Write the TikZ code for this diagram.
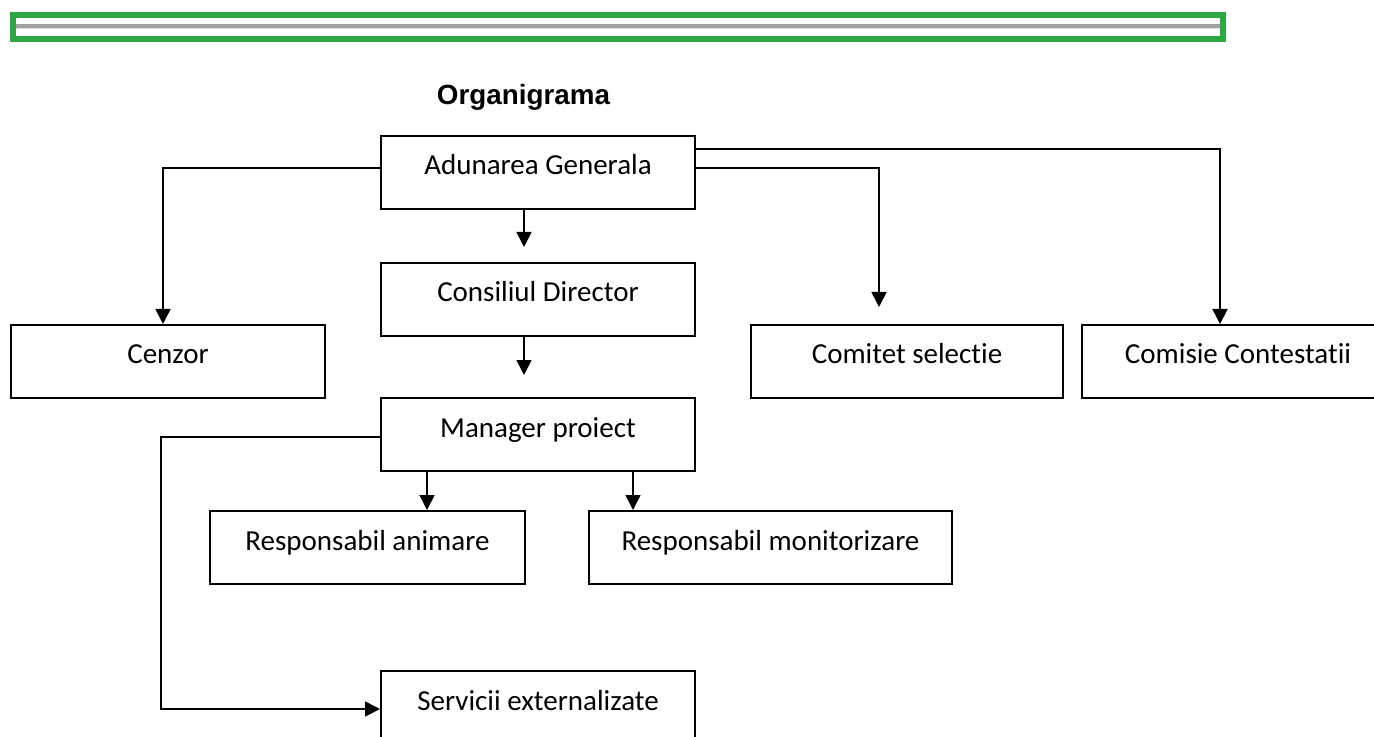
\documentclass[tikz,border=0pt]{standalone}
\usepackage{fontspec}
\setmainfont{Carlito}[Ligatures={NoCommon, NoRare, NoContextual}, RawFeature={-liga;-clig;-dlig;-calt}]
\newfontfamily\titlefont{Liberation Sans}
\usepackage{xcolor}
\usepackage{tikz}
\usetikzlibrary{arrows.meta, positioning}
\definecolor{bargreen}{RGB}{43,167,67}
\definecolor{bargray}{RGB}{160,160,160}

\begin{document}
\begin{tikzpicture}[x=0.5pt, y=-0.5pt,
    orgbox/.style={draw, line width=1pt, inner sep=0pt, anchor=north west,
      minimum width=157pt, text height=19.5pt, text depth=17pt,
      font=\fontsize{14.5}{17}\selectfont},
    link/.style={line width=0.85pt},
    arr/.style={link, -{Triangle[length=7.5pt, width=7.5pt]}}]
    \clip (0,0) rectangle (1374,737);

    % Header bar
    \draw[bargreen, line width=3pt] (13,15) rectangle (1223,39);
    \draw[bargray, line width=2pt] (16,26) -- (1220,26);
    \draw[gray!25, line width=0.6pt] (16,28.5) -- (1220,28.5);

    % Title
    \node[anchor=base, font=\titlefont\bfseries\fontsize{13.9}{16}\selectfont] (title) at (523.5,105) {Organigrama};

    % Boxes
    \node[orgbox] (adun) at (380,135) {Adunarea Generala};
    \node[orgbox] (cons) at (380,262) {Consiliul Director};
    \node[orgbox] (cenzor) at (10,324) {Cenzor};
    \node[orgbox, minimum width=156pt] (comitet) at (750,324) {Comitet selectie};
    \node[orgbox, minimum width=156pt] (comisie) at (1081,324) {Comisie Contestatii};
    \node[orgbox] (manager) at (380,397) {Manager proiect};
    \node[orgbox, minimum width=157.5pt] (respanim) at (209,510) {Responsabil animare};
    \node[orgbox, minimum width=181.5pt] (respmon) at (588,510) {Responsabil monitorizare};
    \node[orgbox] (servicii) at (380,670) {Servicii externalizate};

    % Chain of command
    \draw[arr, shorten >=7.5pt] ([xshift=-7pt]adun.south) -- ([xshift=-7pt]cons.north);
    \draw[arr, shorten >=11pt] ([xshift=-7pt]cons.south) -- ([xshift=-7pt]manager.north);

    % Branches of the general assembly
    \draw[arr] ([yshift=2.25pt]adun.west) -| ([xshift=-2.5pt]cenzor.north);
    \draw[arr, shorten >=8.5pt] ([yshift=2.25pt]adun.east) -| ([xshift=-14pt]comitet.north);
    \draw[arr] ([yshift=11.75pt]adun.east) -| ([xshift=-9pt]comisie.north);

    % Branches of the project manager
    \draw[arr] ([xshift=-55.5pt]manager.south) -- ([xshift=-55.5pt]manager.south |- respanim.north);
    \draw[arr] ([xshift=47.5pt]manager.south) -- ([xshift=47.5pt]manager.south |- respmon.north);
    \draw[arr] ([yshift=-1.25pt]manager.west) -- ++(-219,0) |- ([yshift=-0.75pt]servicii.west);
\end{tikzpicture}
\end{document}
